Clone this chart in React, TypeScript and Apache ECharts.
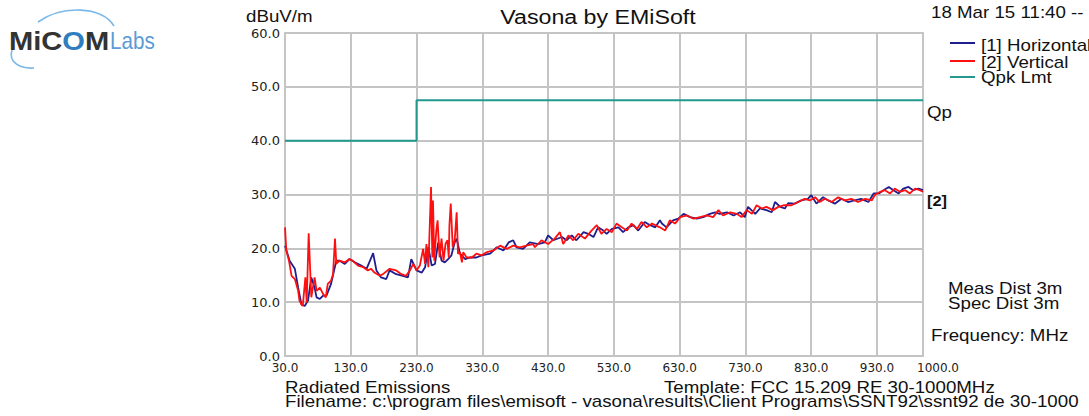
import React, { useEffect, useRef } from "react";
import * as echarts from "echarts";

// ---- Data (frequency in MHz, level in dBuV/m) ----
const H_FREQ = [30, 37, 45, 50, 55, 60, 65, 70, 75, 78, 83, 88, 93, 100, 108, 113, 121, 128, 136, 146, 154, 164, 169, 176, 184, 189, 199, 209, 217, 222, 230, 238, 243, 248, 253, 258, 263, 268, 273, 278, 283, 288, 291, 296, 304, 311, 321, 329, 342, 352, 362, 370, 377, 382, 392, 402, 415, 425, 430, 438, 451, 458, 466, 473, 484, 491, 499, 506, 514, 519, 527, 537, 544, 552, 560, 567, 577, 585, 593, 600, 603, 610, 620, 628, 636, 646, 656, 666, 676, 684, 691, 702, 712, 722, 729, 734, 745, 752, 762, 770, 775, 783, 790, 795, 805, 815, 825, 830, 838, 848, 856, 866, 876, 886, 896, 906, 917, 925, 933, 940, 948, 955, 963, 970, 978, 985, 993, 1000];
const H_DB = [20.5, 17.7, 16.2, 12.7, 9.6, 9.3, 10.3, 14.6, 12.7, 10.9, 10.6, 11.2, 11.2, 13.4, 17.7, 17.7, 17.1, 18.0, 17.4, 16.8, 16.2, 19.1, 15.9, 14.6, 14.3, 15.9, 15.2, 14.9, 14.6, 18.0, 15.9, 15.5, 16.5, 20.2, 16.8, 17.1, 21.1, 17.7, 17.4, 18.0, 18.7, 21.1, 21.8, 19.0, 18.0, 18.3, 18.3, 18.7, 19.0, 20.2, 19.6, 21.1, 21.5, 20.2, 19.9, 21.1, 20.8, 21.1, 22.4, 21.5, 22.1, 21.5, 22.4, 21.5, 23.0, 22.7, 22.1, 23.9, 23.3, 22.7, 23.6, 23.9, 23.0, 23.9, 24.3, 23.3, 24.9, 24.3, 23.9, 25.2, 24.6, 23.9, 25.2, 25.5, 26.4, 25.8, 25.5, 25.8, 26.4, 26.7, 26.4, 26.7, 26.1, 26.7, 25.8, 27.7, 26.4, 27.4, 27.1, 26.7, 28.6, 27.7, 27.4, 28.4, 28.3, 28.9, 29.2, 29.9, 28.3, 29.5, 28.9, 28.3, 29.2, 28.6, 28.9, 29.2, 28.6, 30.2, 30.2, 30.8, 31.4, 30.8, 30.2, 31.1, 31.4, 30.8, 31.1, 30.8];

const V_FREQ = [30, 32, 36, 40, 45, 50, 52, 55, 57, 61, 63, 66, 70, 75, 78, 83, 88, 92, 95, 100, 103, 106, 108, 113, 121, 128, 133, 141, 149, 156, 161, 166, 174, 179, 189, 199, 207, 214, 220, 225, 230, 235, 240, 243, 245, 248, 252, 254, 255, 257, 260, 262, 265, 268, 271, 274, 277, 279, 280, 282, 285, 288, 291, 293, 296, 299, 301, 306, 314, 321, 329, 337, 347, 357, 367, 377, 387, 397, 407, 410, 420, 430, 440, 448, 453, 461, 468, 476, 486, 496, 504, 511, 519, 527, 534, 542, 550, 557, 565, 572, 580, 588, 600, 608, 615, 623, 631, 641, 651, 661, 671, 681, 689, 696, 707, 717, 724, 732, 740, 747, 755, 762, 772, 780, 788, 795, 800, 810, 820, 828, 836, 843, 851, 861, 871, 881, 891, 901, 912, 922, 927, 935, 942, 950, 957, 965, 973, 980, 988, 995, 1000];
const V_DB = [23.9, 19.6, 17.7, 14.9, 14.3, 12.1, 10.3, 9.6, 9.3, 14.6, 9.9, 22.8, 10.9, 14.6, 12.1, 12.7, 11.5, 10.9, 13.4, 14.0, 15.2, 21.8, 17.1, 17.7, 17.4, 18.0, 17.7, 16.8, 16.5, 15.9, 16.2, 15.5, 14.9, 15.2, 16.2, 15.9, 15.2, 14.9, 15.9, 17.1, 15.9, 16.8, 19.9, 17.1, 20.8, 16.5, 31.4, 18.3, 28.9, 17.7, 23.3, 25.2, 18.3, 21.8, 17.7, 20.8, 21.5, 18.3, 24.3, 28.3, 20.2, 21.5, 26.7, 19.0, 19.3, 17.4, 19.3, 18.3, 18.3, 19.0, 18.7, 19.3, 19.6, 20.5, 19.9, 20.5, 20.2, 20.5, 20.8, 20.2, 21.5, 20.8, 21.8, 23.0, 20.8, 22.4, 21.5, 22.7, 21.8, 23.3, 24.3, 22.7, 23.6, 23.0, 24.6, 23.9, 23.3, 24.6, 23.6, 24.9, 23.9, 24.6, 23.9, 23.3, 25.2, 24.6, 25.8, 26.1, 25.5, 25.8, 26.1, 25.8, 27.1, 26.1, 26.7, 26.4, 25.8, 27.1, 26.4, 28.0, 27.4, 27.7, 27.1, 27.7, 28.0, 28.0, 28.0, 28.6, 29.2, 28.9, 29.5, 28.6, 29.2, 28.6, 29.5, 28.9, 29.2, 28.6, 29.2, 28.9, 29.9, 30.5, 30.8, 30.2, 31.1, 30.5, 30.8, 30.2, 31.1, 30.8, 30.5];

const LIMIT_FREQ = [30, 230, 230, 1000];
const LIMIT_DB = [40, 40, 47.5, 47.5];

const F_START = 30;
const F_STOP = 1000;
const F_STEP = 100;
const Y_MIN = 0;
const Y_MAX = 60;
const Y_STEP = 10;

const SERIES_NAMES = ["[1] Horizontal", "[2] Vertical", "Qpk Lmt"];
const COLORS = ["#1e1e8e", "#ff1010", "#23998e"];

const TITLE = "Vasona by EMiSoft";
const Y_UNIT = "dBuV/m";
const DATE_TEXT = "18 Mar 15 11:40 --";
const FOOT_LEFT = "Radiated Emissions";
const FOOT_TEMPLATE = "Template: FCC 15.209 RE 30-1000MHz";
const FOOT_FILE =
  "Filename: c:\\program files\\emisoft - vasona\\results\\Client Programs\\SSNT92\\ssnt92 de 30-1000";

const pairs = (f: number[], d: number[]) => f.map((x, i) => [x - F_START, d[i]]);

const FONT = '"Liberation Sans", Arial, sans-serif';
const SX = 1.17;

function txt(text: string, x: number, y: number, size = 16, opts: any = {}) {
  return {
    type: "text",
    x,
    y,
    scaleX: opts.scaleX ?? SX,
    z: 100,
    style: {
      text,
      fill: opts.fill ?? "#111",
      font: `${opts.weight ?? "normal"} ${size}px ${FONT}`,
      textAlign: opts.align ?? "left",
      textVerticalAlign: "middle",
    },
  };
}

export default function App() {
  const ref = useRef<HTMLDivElement>(null);
  useEffect(() => {
    document.body.style.margin = "0";
    const chart = echarts.init(ref.current!, undefined, { renderer: "svg" });
    const last = F_STOP - F_START;
    const grid = "#c4c4c4";
    chart.setOption({
      animation: false,
      textStyle: { fontFamily: '"DejaVu Sans", sans-serif' },
      grid: {
        left: 285,
        right: 1089 - 923,
        top: 33,
        bottom: 60,
        show: true,
        borderColor: grid,
        borderWidth: 2,
      },
      xAxis: {
        type: "value",
        min: 0,
        max: last,
        interval: F_STEP,
        axisLine: { lineStyle: { color: grid, width: 2 } },
        axisTick: { show: false },
        splitLine: { show: true, lineStyle: { color: grid, width: 2 } },
        axisLabel: {
          color: "#222",
          fontSize: 12,
          margin: 6,
          showMinLabel: true,
          showMaxLabel: true,
          formatter: (v: number) => {
            const s = (v + F_START).toFixed(1);
            return v === last ? `{m|${s}}` : s;
          },
          rich: {
            m: { fontSize: 12, color: "#222", padding: [0, 0, 0, 30] },
          },
        },
      },
      yAxis: {
        type: "value",
        min: Y_MIN,
        max: Y_MAX,
        interval: Y_STEP,
        axisLine: { show: true, lineStyle: { color: grid, width: 2 } },
        axisTick: { show: false },
        splitLine: { show: true, lineStyle: { color: grid, width: 2 } },
        axisLabel: {
          color: "#222",
          fontSize: 13,
          margin: 5,
          padding: [0, 0, 4, 0],
          formatter: (v: number) => v.toFixed(1),
        },
      },
      series: [
        {
          name: SERIES_NAMES[0],
          type: "line",
          data: pairs(H_FREQ, H_DB),
          symbol: "none",
          lineStyle: { color: COLORS[0], width: 1.8 },
          silent: true,
          z: 2,
        },
        {
          name: SERIES_NAMES[1],
          type: "line",
          data: pairs(V_FREQ, V_DB),
          symbol: "none",
          lineStyle: { color: COLORS[1], width: 1.8 },
          silent: true,
          z: 3,
        },
        {
          name: SERIES_NAMES[2],
          type: "line",
          data: pairs(LIMIT_FREQ, LIMIT_DB),
          symbol: "none",
          lineStyle: { color: COLORS[2], width: 2 },
          silent: true,
          z: 4,
        },
      ],
      graphic: [
        // logo
        {
          type: "bezierCurve",
          shape: { x1: 38, y1: 22, cpx1: 62, cpy1: 5, cpx2: 102, cpy2: 6, x2: 114, y2: 26 },
          style: { stroke: "#7ab8e8", lineWidth: 1.6, fill: null },
          z: 90,
        },
        {
          type: "bezierCurve",
          shape: { x1: 12, y1: 50, cpx1: 8, cpy1: 62, cpx2: 20, cpy2: 69, x2: 34, y2: 68 },
          style: { stroke: "#7ab8e8", lineWidth: 1.6, fill: null },
          z: 90,
        },
        {
          type: "text",
          x: 9,
          y: 41,
          scaleX: 1.12,
          z: 100,
          style: {
            text: "{a|MiC}{g|O}{a|M}",
            textVerticalAlign: "middle",
            rich: {
              a: { font: `bold 26px ${FONT}`, fill: "#333333" },
              g: { font: `bold 26px ${FONT}`, fill: "#2f7fc0" },
            },
          },
        },
        txt("Labs", 110, 41, 24, { fill: "#5b9bd5", scaleX: 0.86 }),
        // titles and annotations
        txt(TITLE, 598, 18, 19.5, { align: "center", scaleX: 1.19 }),
        txt(Y_UNIT, 246, 16, 16),
        txt(DATE_TEXT, 931, 12, 16),
        // legend
        { type: "line", shape: { x1: 950, y1: 43, x2: 975, y2: 43 }, style: { stroke: COLORS[0], lineWidth: 2 }, z: 99 },
        { type: "line", shape: { x1: 950, y1: 61, x2: 975, y2: 61 }, style: { stroke: COLORS[1], lineWidth: 2 }, z: 99 },
        { type: "line", shape: { x1: 950, y1: 77, x2: 975, y2: 77 }, style: { stroke: COLORS[2], lineWidth: 2 }, z: 99 },
        txt(SERIES_NAMES[0], 981, 45, 16),
        txt(SERIES_NAMES[1], 981, 62, 16),
        txt(SERIES_NAMES[2], 981, 77, 16),
        // right side notes
        txt("Qp", 927, 112, 16),
        txt("[2]", 927, 201, 14, { weight: "bold" }),
        txt("Meas Dist 3m", 948, 288, 16),
        txt("Spec Dist 3m", 948, 303, 16),
        txt("Frequency: MHz", 931, 335, 16),
        // footer
        txt(FOOT_LEFT, 285, 387, 16),
        txt(FOOT_TEMPLATE, 664, 387, 16),
        txt(FOOT_FILE, 285, 401, 16),
      ],
    });
    return () => chart.dispose();
  }, []);
  return (
    <div
      ref={ref}
      style={{ position: "absolute", left: 0, top: 0, width: 1089, height: 416, background: "#fff" }}
    />
  );
}
